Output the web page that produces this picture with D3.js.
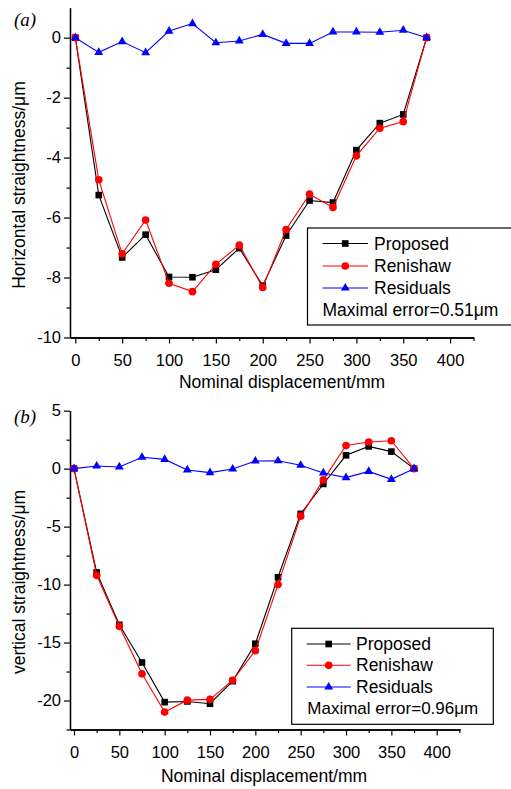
<!DOCTYPE html>
<html>
<head>
<meta charset="utf-8">
<script src="https://cdn.jsdelivr.net/npm/d3@7"></script>
<style>
  body { margin: 0; background: #fff; }
  svg { display: block; font-family: "Liberation Sans", Arial, sans-serif; }
</style>
</head>
<body>
<script>

// nominal displacement (mm) shared by both panels
var displacement = [0, 25, 50, 75, 100, 125, 150, 175, 200, 225, 250, 275, 300, 325, 350, 375];

// (a) horizontal straightness, um
var horizProposed = [0, -5.25, -7.33, -6.57, -7.98, -7.99, -7.74, -7.02, -8.27, -6.6, -5.43, -5.5, -3.75, -2.85, -2.56, 0];
var horizRenishaw = [0, -4.74, -7.21, -6.08, -8.19, -8.47, -7.56, -6.92, -8.33, -6.4, -5.22, -5.66, -3.94, -3.02, -2.8, 0];
var horizResiduals = [0, -0.49, -0.13, -0.5, 0.22, 0.47, -0.17, -0.11, 0.11, -0.19, -0.19, 0.19, 0.19, 0.18, 0.25, 0];

// (b) vertical straightness, um
var vertProposed = [0, -8.95, -13.47, -16.72, -20.14, -20.08, -20.28, -18.33, -15.1, -9.37, -3.9, -1.32, 1.15, 1.92, 1.47, 0];
var vertRenishaw = [0, -9.2, -13.6, -17.7, -21.0, -19.97, -19.9, -18.25, -15.7, -10.0, -4.1, -0.97, 2.0, 2.3, 2.41, 0];
var vertResiduals = [0, 0.23, 0.15, 0.98, 0.8, -0.11, -0.34, -0.03, 0.66, 0.68, 0.29, -0.37, -0.77, -0.24, -0.92, 0];

var seriesNames = ["Proposed", "Renishaw", "Residuals"];
var xTicks = [0, 50, 100, 150, 200, 250, 300, 350, 400];
var xMinorTicks = [25, 75, 125, 175, 225, 275, 325, 375, 425];
var horizYTicks = [-10, -8, -6, -4, -2, 0];
var horizYMinor = [-9, -7, -5, -3, -1];
var vertYTicks = [-20, -15, -10, -5, 0, 5];
var vertYMinor = [-22.5, -17.5, -12.5, -7.5, -2.5, 2.5];

// styling per series
var color = d3.scaleOrdinal().domain(seriesNames).range(["#000000", "#ff0000", "#0000ff"]);
var shape = d3.scaleOrdinal().domain(seriesNames).range([d3.symbolSquare, d3.symbolCircle, d3.symbolTriangle]);
var shapeSize = d3.scaleOrdinal().domain(seriesNames).range([44, 46, 34]);

// plain hyphen for negatives, like the original figure
var plainNumber = function(d) { return String(d); };

var svg = d3.select("body").append("svg")
  .attr("width", 511)
  .attr("height", 789);

function styleAxis(sel, fontSize) {
  sel.selectAll(".domain").attr("stroke", "#000").attr("stroke-width", 1.3);
  sel.selectAll(".tick line").attr("stroke", "#000").attr("stroke-width", 1.2);
  sel.selectAll("text").attr("fill", "#000").style("font-size", fontSize + "px")
    .style("font-family", "'Liberation Sans', Arial, sans-serif");
}

function drawPanel(p) {
  var x = d3.scaleLinear().domain(p.xDomain).range([p.left, p.right]);
  var y = d3.scaleLinear().domain(p.yDomain).range([p.bottom, p.top]);
  var g = svg.append("g");

  // left axis: minor ticks first, then majors with labels
  g.append("g").attr("transform", "translate(" + p.left + ",0)")
    .call(d3.axisLeft(y).tickValues(p.yMinor).tickSize(3.5).tickSizeOuter(0).tickFormat(""))
    .call(styleAxis, 16.5);
  g.append("g").attr("transform", "translate(" + p.left + ",0)")
    .call(d3.axisLeft(y).tickValues(p.yTicks).tickSize(6).tickSizeOuter(0).tickPadding(3).tickFormat(plainNumber))
    .call(styleAxis, 16.5);

  // bottom axis
  g.append("g").attr("transform", "translate(0," + p.bottom + ")")
    .call(d3.axisBottom(x).tickValues(xMinorTicks).tickSize(3.5).tickSizeOuter(0).tickFormat(""))
    .call(styleAxis, 16.5);
  g.append("g").attr("transform", "translate(0," + p.bottom + ")")
    .call(d3.axisBottom(x).tickValues(xTicks).tickSize(6).tickSizeOuter(0).tickPadding(11).tickFormat(plainNumber))
    .call(styleAxis, 16.5);

  // axis titles
  g.append("text")
    .attr("x", p.xTitleX)
    .attr("y", p.xTitleY)
    .attr("text-anchor", "middle")
    .style("font-size", "17.5px")
    .text("Nominal displacement/mm");

  g.append("text")
    .attr("transform", "translate(25," + p.yTitleY + ") rotate(-90)")
    .attr("text-anchor", "middle")
    .style("font-size", "17.5px")
    .text(p.yTitle);

  // panel tag
  g.append("text")
    .attr("x", 14)
    .attr("y", p.tagY)
    .style("font-family", "'Liberation Serif', 'Times New Roman', serif")
    .style("font-style", "italic")
    .style("font-size", "19px")
    .text(p.tag);

  // series: line then markers, in legend order
  var line = d3.line()
    .x(function(d) { return x(d.x); })
    .y(function(d) { return y(d.y); });

  p.series.forEach(function(s) {
    var pts = displacement.map(function(d, i) { return { x: d, y: s.values[i] }; });

    g.append("path")
      .datum(pts)
      .attr("fill", "none")
      .attr("stroke", color(s.name))
      .attr("stroke-width", 1.1)
      .attr("d", line);

    g.append("g")
      .selectAll("path")
      .data(pts)
      .enter()
      .append("path")
      .attr("transform", function(d) { return "translate(" + x(d.x) + "," + y(d.y) + ")"; })
      .attr("d", d3.symbol().type(shape(s.name)).size(shapeSize(s.name)))
      .attr("fill", color(s.name));
  });

  // legend box
  var L = p.legend;
  g.append("rect")
    .attr("x", L.x0)
    .attr("y", L.y0)
    .attr("width", L.x1 - L.x0)
    .attr("height", L.y1 - L.y0)
    .attr("fill", "#fff")
    .attr("stroke", "#000")
    .attr("stroke-width", 1.2);

  seriesNames.forEach(function(name, i) {
    var rowY = L.rowY[i];
    g.append("line")
      .attr("x1", L.lineX0).attr("x2", L.lineX1)
      .attr("y1", rowY).attr("y2", rowY)
      .attr("stroke", color(name))
      .attr("stroke-width", 1.1);
    g.append("path")
      .attr("transform", "translate(" + (L.lineX0 + L.lineX1) / 2 + "," + rowY + ")")
      .attr("d", d3.symbol().type(shape(name)).size(shapeSize(name)))
      .attr("fill", color(name));
    g.append("text")
      .attr("x", L.textX)
      .attr("y", rowY + 6)
      .style("font-size", "17.5px")
      .text(name);
  });

  g.append("text")
    .attr("x", L.noteX)
    .attr("y", L.rowY[3] + 6)
    .style("font-size", L.noteSize + "px")
    .text(p.note);
}

drawPanel({
  tag: "(a)", tagY: 26,
  left: 70, right: 473.5, top: 7.7, bottom: 337.5,
  xDomain: [-5.7, 425], yDomain: [-10, 1],
  yTicks: horizYTicks, yMinor: horizYMinor,
  xTitleX: 282, xTitleY: 388,
  yTitle: "Horizontal straightness/\u03bcm", yTitleY: 185,
  series: [
    { name: "Proposed", values: horizProposed },
    { name: "Renishaw", values: horizRenishaw },
    { name: "Residuals", values: horizResiduals }
  ],
  legend: {
    x0: 307.5, x1: 515, y0: 228, y1: 325,
    rowY: [243.5, 266, 288, 310],
    lineX0: 322.5, lineX1: 368, textX: 374, noteX: 322.5, noteSize: 17.5
  },
  note: "Maximal error=0.51\u03bcm"
});

drawPanel({
  tag: "(b)", tagY: 423,
  left: 70, right: 460, top: 410.7, bottom: 729.5,
  xDomain: [-4.4, 425.7], yDomain: [-22.5, 5],
  yTicks: vertYTicks, yMinor: vertYMinor,
  xTitleX: 264, xTitleY: 782,
  yTitle: "vertical straightness/\u03bcm", yTitleY: 582,
  series: [
    { name: "Proposed", values: vertProposed },
    { name: "Renishaw", values: vertRenishaw },
    { name: "Residuals", values: vertResiduals }
  ],
  legend: {
    x0: 291.7, x1: 493.3, y0: 628.3, y1: 724.3,
    rowY: [644, 665.3, 687, 708],
    lineX0: 306.7, lineX1: 350.7, textX: 356, noteX: 307.3, noteSize: 17
  },
  note: "Maximal error=0.96\u03bcm"
});

</script>
</body>
</html>
